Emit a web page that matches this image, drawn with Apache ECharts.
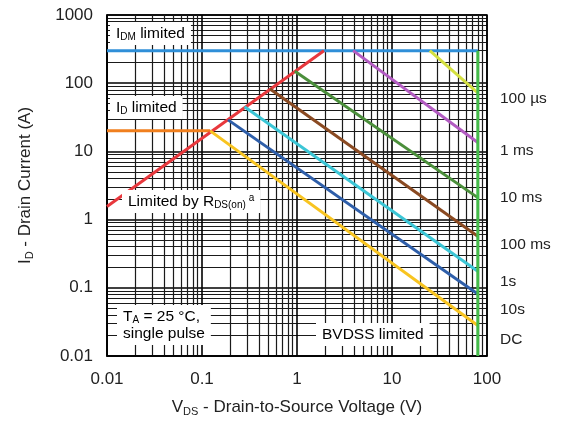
<!DOCTYPE html>
<html>
<head>
<meta charset="utf-8">
<script src="https://cdn.jsdelivr.net/npm/echarts@6/dist/echarts.min.js"></script>
<style>
  html, body { margin: 0; padding: 0; background: #fff; }
  #chart { width: 561px; height: 422px; }
</style>
</head>
<body>
<div id="chart"></div>
<script>
// safe operating area, [V, A] pairs
const idmLimit = [[0.01, 300], [80, 300]]
const idLimit = [[0.01, 20], [0.122, 20]]
const rdsLimit = [[0.01, 1.56], [1.92, 300]]
const bvdssLimit = [[80, 300], [80, 0.01]]
const pulse100us = [[25, 300], [80, 72]]
const pulse1ms = [[3.9, 300], [80, 13.5]]
const pulse10ms = [[0.95, 150], [80, 2.1]]
const pulse100ms = [[0.52, 82], [80, 0.57]]
const pulse1s = [[0.28, 45], [80, 0.175]]
const pulse10s = [[0.188, 29], [80, 0.081]]
const pulseDC = [[0.122, 20], [80, 0.028]]

const curveNames = ['100 µs', '1 ms', '10 ms', '100 ms', '1s', '10s', 'DC']
const curveLabelY = [100, 152, 199, 246, 283, 311, 341]

const font = 'Liberation Sans, Arial, sans-serif'
const txt = '#222'

const chart = echarts.init(document.getElementById('chart'))

const line = (data, color) => ({
    type: 'line',
    data: data,
    symbol: 'none',
    lineStyle: { color: color, width: 3 },
    z: 5
})

const rich = {
    n: { fontSize: 15.5, fontFamily: font, color: txt },
    s: { fontSize: 10, fontFamily: font, color: txt, verticalAlign: 'bottom', padding: [7, 0, 0, 0] },
    p: { fontSize: 10, fontFamily: font, color: txt, verticalAlign: 'top', padding: [0, 0, 8, 3] }
}

const box = (x, y, text) => ({
    type: 'text',
    left: x,
    top: y,
    z: 100,
    style: {
        text: text,
        rich: rich,
        backgroundColor: '#fff',
        padding: [3, 6, 3, 6],
        lineHeight: 17
    }
})

const axisName = {
    rich: {
        n: { fontSize: 17, fontFamily: font, color: txt },
        s: { fontSize: 11, fontFamily: font, color: txt, verticalAlign: 'bottom', padding: [8, 0, 0, 0] }
    }
}

const options = {
    animation: false,
    grid: {
        left: 107, right: 74, top: 15, bottom: 65,
        show: true, borderColor: '#000', borderWidth: 1.5
    },
    xAxis: {
        type: 'log', logBase: 10, min: 0.01, max: 100,
        axisLine: { show: true, lineStyle: { color: '#000', width: 1.5 } },
        axisTick: { show: false },
        axisLabel: { color: txt, fontSize: 17, fontFamily: font, margin: 15 },
        splitLine: { show: true, lineStyle: { color: '#000', width: 1.6 } },
        minorTick: { show: false, splitNumber: 9 },
        minorSplitLine: { show: true, lineStyle: { color: '#1a1a1a', width: 1.2 } },
        name: '{n|V}{s|DS}{n| - Drain-to-Source Voltage (V)}',
        nameLocation: 'middle',
        nameGap: 42,
        nameTextStyle: axisName
    },
    yAxis: {
        type: 'log', logBase: 10, min: 0.01, max: 1000,
        axisLine: { show: true, lineStyle: { color: '#000', width: 1.5 } },
        axisTick: { show: false },
        axisLabel: {
            color: txt, fontSize: 17, fontFamily: font, margin: 14,
            formatter: v => String(v)
        },
        splitLine: { show: true, lineStyle: { color: '#000', width: 1.6 } },
        minorTick: { show: false, splitNumber: 9 },
        minorSplitLine: { show: true, lineStyle: { color: '#1a1a1a', width: 1.2 } },
        name: '{n|I}{s|D}{n| - Drain Current (A)}',
        nameLocation: 'middle',
        nameGap: 72,
        nameTextStyle: axisName
    },
    series: [
        line(idmLimit, '#2f8fd8'),
        line(idLimit, '#f07f1e'),
        line(rdsLimit, '#e8383d'),
        line(pulse100us, '#d4e040'),
        line(pulse1ms, '#b35cc2'),
        line(pulse10ms, '#4b8f3b'),
        line(pulse100ms, '#8a4a22'),
        line(pulse1s, '#3cc6d6'),
        line(pulse10s, '#2e5ea9'),
        line(pulseDC, '#f8c420'),
        line(bvdssLimit, '#44bb4a')
    ],
    graphic: [
        box(110, 22, '{n|I}{s|DM}{n| limited}'),
        box(110, 96, '{n|I}{s|D}{n| limited}'),
        box(122, 190, '{n|Limited by R}{s|DS(on)}{p|a}'),
        box(117, 305, '{n|T}{s|A}{n| = 25 °C,}\n{n|single pulse}'),
        box(316, 323, '{n|BVDSS limited}')
    ].concat(curveNames.map((name, i) => ({
        type: 'text',
        left: 500,
        top: curveLabelY[i] - 9,
        style: { text: name, fontSize: 15.5, fontFamily: font, fill: txt }
    })))
}

chart.setOption(options)
</script>
</body>
</html>
